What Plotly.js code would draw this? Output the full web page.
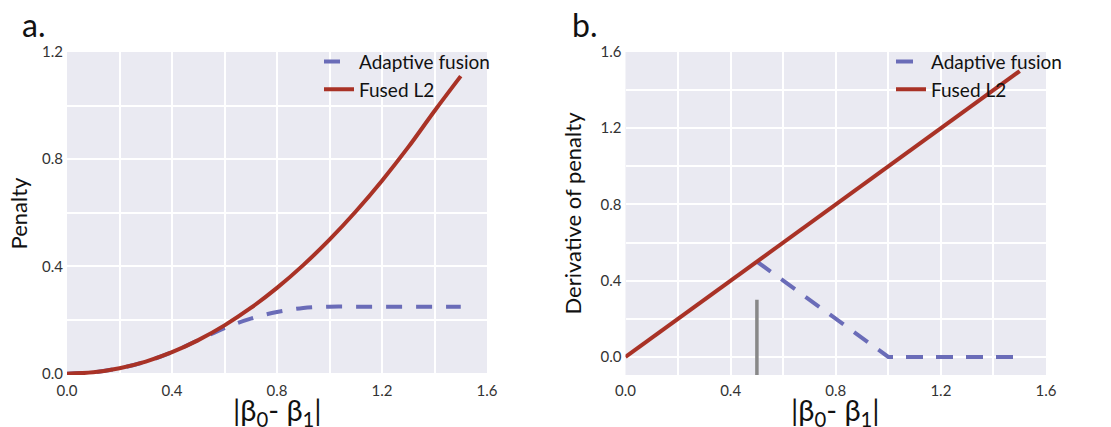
<!DOCTYPE html>
<html>
<head>
<meta charset="utf-8">
<script src="https://cdn.plot.ly/plotly-3.0.1.min.js"></script>
<style>html,body{margin:0;padding:0;background:#fff;}#chart{width:1111px;height:427px;}</style>
</head>
<body>
<div id="chart"></div>
<script>
// Panel a: penalty
const penX = [0, 0.1, 0.2, 0.3, 0.4, 0.5, 0.6, 0.7, 0.8, 0.9, 1.0, 1.1, 1.2, 1.3, 1.4, 1.5];
const fusedPenalty = [0, 0.005, 0.02, 0.045, 0.08, 0.125, 0.18, 0.245, 0.32, 0.405, 0.5, 0.605, 0.72, 0.845, 0.98, 1.11];
const adaptivePenalty = [0, 0.005, 0.02, 0.045, 0.08, 0.125, 0.17, 0.205, 0.23, 0.245, 0.25, 0.25, 0.25, 0.25, 0.25, 0.25];

// Panel b: derivative of penalty
const fusedDerivX = [0, 1.5];
const fusedDeriv = [0, 1.5];
const adaptiveDerivX = [0.5, 1.0, 1.5];
const adaptiveDeriv = [0.5, 0, 0];
const markerX = [0.5, 0.5];
const markerY = [-0.1, 0.3];

const tickVals = [0, 0.4, 0.8, 1.2, 1.6];
const yTickValsA = [0, 0.4, 0.8, 1.2];
const yTickValsB = [0, 0.4, 0.8, 1.2, 1.6];

const blue = '#6a6cb8';
const red = '#a93226';
const FONT = 'Lato, "Open Sans", sans-serif';
const xTitle = '|β<sub>0</sub>- β<sub>1</sub>|';

const traces = [
  {x: penX, y: adaptivePenalty, xaxis: 'x', yaxis: 'y', mode: 'lines', name: 'Adaptive fusion',
   line: {color: blue, width: 4, dash: '16px,14px', shape: 'spline'}, legend: 'legend'},
  {x: penX, y: fusedPenalty, xaxis: 'x', yaxis: 'y', mode: 'lines', name: 'Fused L2',
   line: {color: red, width: 4, shape: 'spline'}, legend: 'legend'},
  {x: markerX, y: markerY, xaxis: 'x2', yaxis: 'y2', mode: 'lines', showlegend: false,
   line: {color: '#888888', width: 3.5}},
  {x: adaptiveDerivX, y: adaptiveDeriv, xaxis: 'x2', yaxis: 'y2', mode: 'lines', name: 'Adaptive fusion',
   line: {color: blue, width: 4, dash: '17px,13px'}, legend: 'legend2'},
  {x: fusedDerivX, y: fusedDeriv, xaxis: 'x2', yaxis: 'y2', mode: 'lines', name: 'Fused L2',
   line: {color: red, width: 4}, legend: 'legend2'}
];

function xAxis(domain, anchor) {
  return {
    domain: domain, anchor: anchor, range: [0, 1.6],
    tickvals: tickVals, ticktext: tickVals.map(v => v.toFixed(1)),
    showgrid: true, gridcolor: '#ffffff', gridwidth: 2,
    minor: {dtick: 0.2, tick0: 0, showgrid: true, gridcolor: '#ffffff', gridwidth: 2},
    zeroline: false, showline: false, ticks: '', ticklabelstandoff: 5,
    tickfont: {family: FONT, size: 15, color: '#333'}
  };
}
function yAxis(domain, anchor, range, vals, title, standoff) {
  return {
    domain: domain, anchor: anchor, range: range,
    tickvals: vals, ticktext: vals.map(v => v.toFixed(1)),
    showgrid: true, gridcolor: '#ffffff', gridwidth: 2,
    minor: {dtick: 0.2, tick0: 0, showgrid: true, gridcolor: '#ffffff', gridwidth: 2},
    zeroline: false, showline: false, ticks: '', ticklabelstandoff: 3,
    tickfont: {family: FONT, size: 15, color: '#333'},
    title: {text: title, font: {family: FONT, size: 22, color: '#111'}, standoff: standoff}
  };
}

// paper y from pixel row (plot area spans rows 52..375)
const py = px => (375 - px) / 323;

function xTitleAnn(xref) {
  return {text: xTitle, xref: xref, yref: 'paper', x: 0.5, y: py(390), xanchor: 'center', yanchor: 'top',
          showarrow: false, font: {family: FONT, size: 29, color: '#111'}};
}

const layout = {
  width: 1111, height: 427,
  margin: {l: 0, r: 0, t: 52, b: 52},
  paper_bgcolor: '#ffffff', plot_bgcolor: '#eaeaf2',
  font: {family: FONT, color: '#111'},
  xaxis: xAxis([67/1111, 487/1111], 'y'),
  yaxis: yAxis([0, 1], 'x', [-0.005, 1.2], yTickValsA, 'Penalty', 8),
  xaxis2: xAxis([625.5/1111, 1046/1111], 'y2'),
  yaxis2: yAxis([0, 1], 'x2', [-0.095, 1.6], yTickValsB, 'Derivative of penalty', 12),
  legend: {x: 319/1111, y: 1.029, xanchor: 'left', yanchor: 'top', bgcolor: 'rgba(0,0,0,0)',
           font: {family: FONT, size: 19, color: '#111'}, tracegroupgap: 0},
  legend2: {x: 891/1111, y: 1.029, xanchor: 'left', yanchor: 'top', bgcolor: 'rgba(0,0,0,0)',
           font: {family: FONT, size: 19, color: '#111'}, tracegroupgap: 0},
  annotations: [
    xTitleAnn('x domain'),
    xTitleAnn('x2 domain'),
    {text: 'a.', xref: 'paper', yref: 'paper', x: 20/1111, y: py(25), xanchor: 'left', yanchor: 'middle',
     showarrow: false, font: {family: FONT, size: 32, color: '#111'}},
    {text: 'b.', xref: 'paper', yref: 'paper', x: 570/1111, y: py(25), xanchor: 'left', yanchor: 'middle',
     showarrow: false, font: {family: FONT, size: 32, color: '#111'}}
  ]
};

Plotly.newPlot('chart', traces, layout, {displayModeBar: false, staticPlot: true});
</script>
</body>
</html>
